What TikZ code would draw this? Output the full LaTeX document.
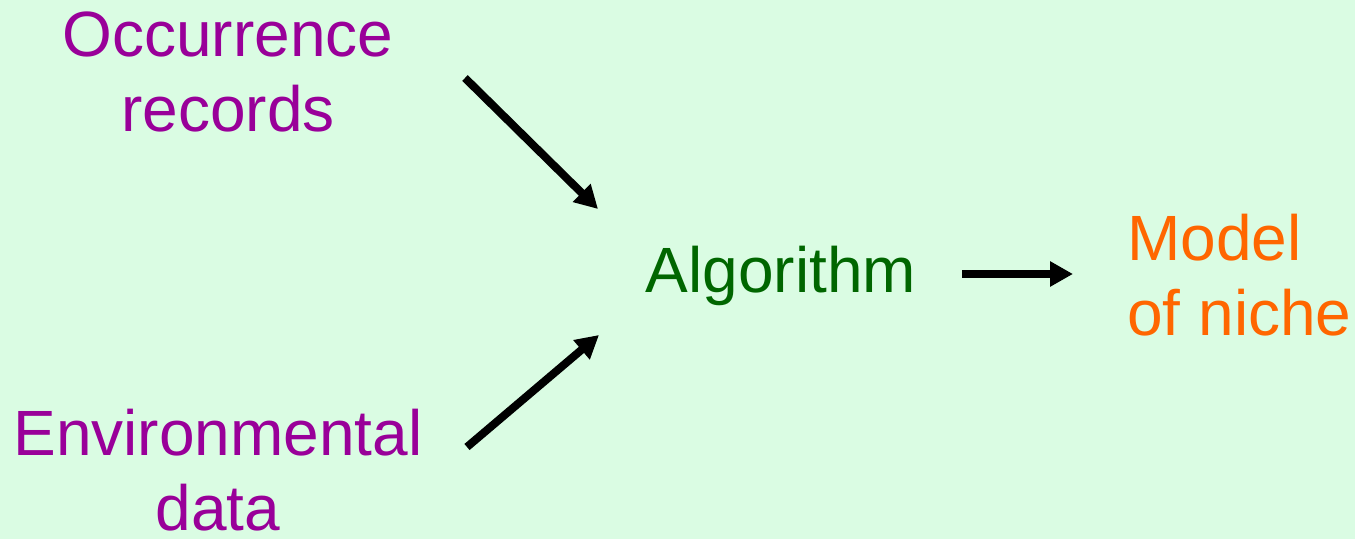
\documentclass[tikz,border=0pt]{standalone}
\usepackage{fontspec}
\setmainfont{Liberation Sans}
\usetikzlibrary{arrows.meta}
\definecolor{bgmint}{HTML}{DAFCE3}
\definecolor{txtpurple}{HTML}{990099}
\definecolor{txtgreen}{HTML}{006600}
\definecolor{txtorange}{HTML}{FF6600}
\begin{document}
\begin{tikzpicture}[x=0.5pt,y=-0.5pt]
\tikzset{label/.style={inner sep=0pt,align=center,font=\fontsize{32}{37.5}\selectfont},
         arr/.style={-{Triangle[length=11.5pt,width=12pt]},line width=4pt,black}}
\fill[bgmint] (0,0) rectangle (1355,539);
\useasboundingbox (0,0) rectangle (1355,539);
\node[label,txtpurple,anchor=south] (occ) at (228,133) {Occurrence\\records};
\node[label,txtpurple,anchor=south] (env) at (218,532) {Environmental\\data};
\node[label,txtgreen,anchor=base] (algo) at (781,293) {Algorithm};
\node[label,txtorange,anchor=south west,align=left] (model) at (1127,337) {Model\\of niche};
\coordinate (occ-out) at (465,78);
\coordinate (env-out) at (467,447);
\coordinate (algo-in1) at (598,209);
\coordinate (algo-in2) at (599,335);
\coordinate (algo-out) at (962,274);
\coordinate (model-in) at (1073,274);
\draw[arr] (occ-out) -- (algo-in1);
\draw[arr] (env-out) -- (algo-in2);
\draw[arr] (algo-out) -- (model-in);
\end{tikzpicture}
\end{document}
